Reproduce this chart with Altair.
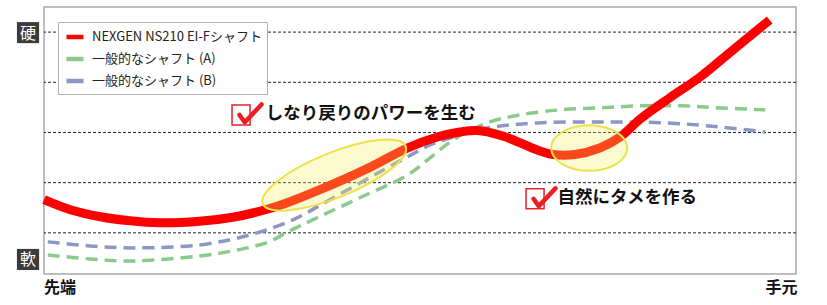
import altair as alt
import pandas as pd

# ---------------- data ----------------
SERIES = ["NEXGEN NS210 EI-Fシャフト", "一般的なシャフト (A)", "一般的なシャフト (B)"]
COLORS = ["#ff0000", "#8cc98c", "#8c97c2"]

red_x = [0, 3.5, 7.5, 11.4, 15.4, 20.7, 25.1, 28.7, 31.8, 36.7, 43.4, 48.3, 52.3, 55.3, 57.6,
         61.0, 65.6, 67.7, 70.6, 73.9, 76.6, 79.3, 83.2, 87.2, 91.9, 96.5]
red_y = [0.66, 0.46, 0.32, 0.24, 0.20, 0.23, 0.31, 0.43, 0.57, 0.86, 1.31, 1.69, 1.91, 2.01, 2.04,
         1.93, 1.65, 1.56, 1.56, 1.69, 1.91, 2.27, 2.69, 3.10, 3.68, 4.24]

a_x = [0.5, 6.1, 11.8, 20.7, 26.1, 29.7, 32.7, 36.3, 42.0, 48.3, 51.3, 54.4, 58.9, 63.3, 68.6,
       73.9, 79.3, 85.0, 89.9, 95.9]
a_y = [-0.44, -0.52, -0.56, -0.46, -0.33, -0.19, 0.04, 0.30, 0.70, 1.15, 1.49, 1.85, 2.19, 2.35, 2.45,
       2.49, 2.53, 2.53, 2.49, 2.45]

b_x = [0.5, 6.1, 11.8, 20.7, 27.4, 33.1, 38.0, 43.4, 48.3, 51.3, 54.4, 58.9, 65.6, 73.9, 82.8, 89.9, 95.9]
b_y = [-0.18, -0.26, -0.30, -0.24, -0.04, 0.26, 0.66, 1.11, 1.51, 1.75, 1.91, 2.09, 2.19, 2.21, 2.19, 2.11, 2.01]

grid_values = [0, 1, 2, 3, 4]

# highlight ellipses (center x, center y)
ell1_x, ell1_y = [38.6], [1.15]
ell2_x, ell2_y = [72.5], [1.69]

# annotations
note_text = ["しなり戻りのパワーを生む", "自然にタメを作る"]
note_x = [29.5, 68.3]
note_y = [2.36, 0.69]
box_x = [26.2, 65.3]
box_y = [2.35, 0.68]
check_x = [27.46, 66.56]
check_y = [2.38, 0.71]

axis_text = ["硬", "軟"]
axis_text_y = [3.99, -0.53]
start_text, start_x = ["先端"], [0]
end_text, end_x = ["手元"], [100.2]
ends_y = [-1.09]

# ---------------- tables ----------------
df_red = pd.DataFrame({"x": red_x, "y": red_y, "series": SERIES[0]})
df_dash = pd.concat([
    pd.DataFrame({"x": a_x, "y": a_y, "series": SERIES[1]}),
    pd.DataFrame({"x": b_x, "y": b_y, "series": SERIES[2]}),
])

xs = alt.Scale(domain=[0, 100], nice=False, zero=False)
ys = alt.Scale(domain=[-0.82, 4.5], nice=False, zero=False)
col = alt.Color("series:N", scale=alt.Scale(domain=SERIES, range=COLORS),
                legend=alt.Legend(title=None, orient="none", legendX=14, legendY=15))

FONT = "Noto Sans CJK JP"

grid = alt.Chart(pd.DataFrame({"g": grid_values})).mark_rule(
    color="#222222", strokeDash=[3, 2], strokeWidth=1
).encode(y=alt.Y("g:Q", scale=ys, axis=None))

dashed = alt.Chart(df_dash).mark_line(
    strokeWidth=3.5, strokeDash=[12, 7], interpolate="catmull-rom"
).encode(
    x=alt.X("x:Q", scale=xs, axis=None),
    y=alt.Y("y:Q", scale=ys, axis=None),
    color=col,
    detail="series:N",
)

red = alt.Chart(df_red).mark_line(strokeWidth=9, interpolate="catmull-rom").encode(
    x=alt.X("x:Q", scale=xs, axis=None),
    y=alt.Y("y:Q", scale=ys, axis=None),
    color=col,
)

ELL1 = "M -1 0 A 1 0.29 0 1 0 1 0 A 1 0.29 0 1 0 -1 0 Z"
ELL2 = "M -1 0 A 1 0.6 0 1 0 1 0 A 1 0.6 0 1 0 -1 0 Z"

ell1 = alt.Chart(pd.DataFrame({"x": ell1_x, "y": ell1_y})).mark_point(
    shape=ELL1, size=154 * 154, angle=338, filled=True, fill="#f4ee60", fillOpacity=0.3,
    stroke="#ece34a", strokeWidth=2, opacity=1
).encode(x=alt.X("x:Q", scale=xs), y=alt.Y("y:Q", scale=ys))

ell2 = alt.Chart(pd.DataFrame({"x": ell2_x, "y": ell2_y})).mark_point(
    shape=ELL2, size=76 * 76, filled=True, fill="#f4ee60", fillOpacity=0.3,
    stroke="#ece34a", strokeWidth=2, opacity=1
).encode(x=alt.X("x:Q", scale=xs), y=alt.Y("y:Q", scale=ys))

boxes = alt.Chart(pd.DataFrame({"x": box_x, "y": box_y})).mark_point(
    shape="M -0.9 -1 L 0.9 -1 L 0.9 1 L -0.9 1 Z", size=20 * 20, filled=False, color="#e8202a",
    strokeWidth=1.5, opacity=1
).encode(x=alt.X("x:Q", scale=xs), y=alt.Y("y:Q", scale=ys))

CHECK = "M -1 0.14 L -0.52 0.81 L 1 -0.81"
checks = alt.Chart(pd.DataFrame({"x": check_x, "y": check_y})).mark_point(
    shape=CHECK, size=22 * 22, filled=False, color="#ee1c24", strokeWidth=4.5,
    strokeCap="round", strokeJoin="round", opacity=1
).encode(x=alt.X("x:Q", scale=xs), y=alt.Y("y:Q", scale=ys))

notes = alt.Chart(pd.DataFrame({"x": note_x, "y": note_y, "t": note_text})).mark_text(
    align="left", baseline="middle", font=FONT, fontSize=17.5, fontWeight="bold", color="#111111"
).encode(x=alt.X("x:Q", scale=xs), y=alt.Y("y:Q", scale=ys), text="t:N")

lab_df = pd.DataFrame({"y": axis_text_y, "t": axis_text, "x0": [-3.6] * 2, "x1": [-0.65] * 2,
                       "y0": [v - 0.21 for v in axis_text_y], "y1": [v + 0.21 for v in axis_text_y]})
lab_box = alt.Chart(lab_df).mark_rect(color="#3c3c3c", clip=False).encode(
    x=alt.X("x0:Q", scale=xs), x2="x1:Q", y=alt.Y("y0:Q", scale=ys), y2="y1:Q")
lab_txt = alt.Chart(lab_df).mark_text(
    align="center", baseline="middle", font=FONT, fontSize=16, color="white", clip=False, dy=1
).encode(x=alt.datum(-2.12, scale=xs), y=alt.Y("y:Q", scale=ys), text="t:N")

start_lbl = alt.Chart(pd.DataFrame({"x": start_x, "y": ends_y, "t": start_text})).mark_text(
    align="left", baseline="middle", font=FONT, fontSize=16, fontWeight="bold", color="#111111", clip=False
).encode(x=alt.X("x:Q", scale=xs), y=alt.Y("y:Q", scale=ys), text="t:N")
end_lbl = alt.Chart(pd.DataFrame({"x": end_x, "y": ends_y, "t": end_text})).mark_text(
    align="right", baseline="middle", font=FONT, fontSize=16, fontWeight="bold", color="#111111", clip=False
).encode(x=alt.X("x:Q", scale=xs), y=alt.Y("y:Q", scale=ys), text="t:N")

chart = alt.layer(
    grid, dashed, red, ell1, ell2, boxes, checks, notes, lab_box, lab_txt, start_lbl, end_lbl
).properties(
    width=752, height=267,
    autosize=alt.AutoSizeParams(type="none"),
    padding={"left": 44, "top": 7, "right": 31, "bottom": 31},
    background="white",
).configure_view(
    stroke="#a8a8a8", strokeWidth=1.5
).configure_legend(
    symbolType="stroke", symbolSize=289, symbolStrokeWidth=4.5,
    labelFont=FONT, labelFontSize=13, labelColor="#222222", labelLimit=400,
    strokeColor="#b0b0b0", fillColor="white", padding=4, rowPadding=2,
    symbolOffset=2, labelOffset=6,
)

chart.save("out.html", embed_options={"renderer": "svg", "actions": False})
